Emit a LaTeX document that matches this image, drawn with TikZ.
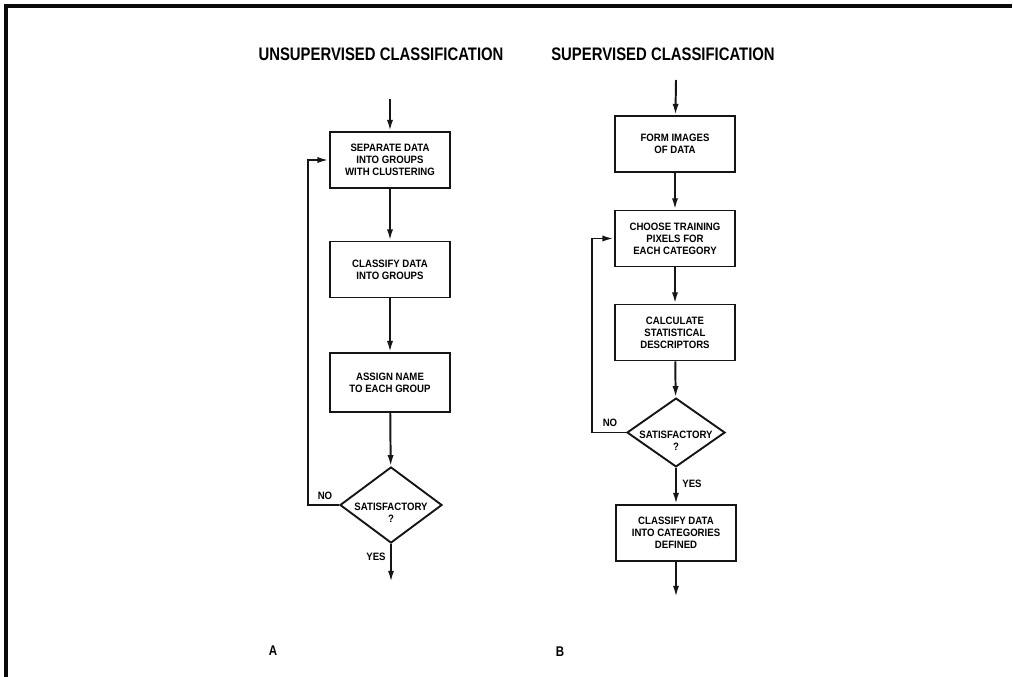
\documentclass[tikz,border=0pt]{standalone}
\usepackage{fontspec}
\usetikzlibrary{shapes.geometric,arrows.meta}
\setmainfont{Liberation Sans}
\newfontfamily\headfont{Liberation Sans}[FakeStretch=0.82]
\newfontfamily\boxfont{Liberation Sans}[FakeStretch=0.9]
\definecolor{inkBlack}{HTML}{151515}
\definecolor{frameGray}{HTML}{0A0A0A}

\begin{document}
\begin{tikzpicture}[x=0.025cm,y=-0.025cm,
  procbox/.style={draw=inkBlack,line width=1.35pt,minimum width=3.02cm,minimum height=1.4cm,
    inner sep=1pt,align=center,font=\boxfont\fontsize{7.6}{8.6}\selectfont\bfseries},
  decide/.style={draw=inkBlack,diamond,line width=1.35pt,inner xsep=-22pt,inner ysep=-8pt,
    align=center,font=\boxfont\fontsize{7.6}{8.6}\selectfont\bfseries},
  flowarrow/.style={draw=inkBlack,line width=1.4pt,-{Latex[length=8pt,width=4.4pt]}},
  flowtitle/.style={font=\headfont\fontsize{12.9}{14}\selectfont\bfseries},
  flowtag/.style={font=\boxfont\fontsize{7.6}{8}\selectfont\bfseries},
  partname/.style={font=\headfont\fontsize{10}{12}\selectfont\bfseries}]
\useasboundingbox (0,0) rectangle (1013,677);
\draw[frameGray,line width=2.8pt] (6,677) -- (6,6) -- (1012,6);

\node[flowtitle] (utitle) at (381,54) {UNSUPERVISED CLASSIFICATION};
\node[flowtitle] (stitle) at (663,54) {SUPERVISED CLASSIFICATION};

\coordinate (uin) at (390,99);
\node[procbox] (usep) at (390,160) {SEPARATE DATA\\INTO GROUPS\\WITH CLUSTERING};
\node[procbox] (ucls) at (390,269.5) {CLASSIFY DATA\\INTO GROUPS};
\node[procbox,minimum height=1.47cm] (uasg) at (390,382.5) {ASSIGN NAME\\TO EACH GROUP};
\node[decide,minimum width=2.55cm,minimum height=1.9cm] (usat) at (391,505) {\rule{0pt}{8pt}\\SATISFACTORY\\?};
\coordinate (uout) at (391,582);
\coordinate (uback) at (308,505);
\draw[flowarrow] (uin) -- (usep);
\draw[flowarrow] (usep) -- (ucls);
\draw[flowarrow] (ucls) -- (uasg);
\draw[flowarrow] (uasg) -- (usat);
\draw[flowarrow] (usat) -- (uout);
\draw[flowarrow] (usat.west) -- (uback) |- (usep.west);
\node[flowtag] (uno) at (325,496) {NO};
\node[flowtag] (uyes) at (376,557) {YES};
\node[partname] (parta) at (273,651) {A};

\coordinate (sin) at (676,80);
\node[procbox] (sform) at (675,144) {FORM IMAGES\\OF DATA};
\node[procbox] (schoose) at (675,238.5) {CHOOSE TRAINING\\PIXELS FOR\\EACH CATEGORY};
\node[procbox] (scalc) at (675,332.5) {CALCULATE\\STATISTICAL\\DESCRIPTORS};
\node[decide,minimum width=2.45cm,minimum height=1.72cm] (ssat) at (676,432.5) {\rule{0pt}{8pt}\\SATISFACTORY\\?};
\node[procbox] (sclass) at (676,533) {CLASSIFY DATA\\INTO CATEGORIES\\DEFINED};
\coordinate (sout) at (676,597);
\coordinate (sback) at (592,432.5);
\draw[flowarrow] (sin) -- (sform);
\draw[flowarrow] (sform) -- (schoose);
\draw[flowarrow] (schoose) -- (scalc);
\draw[flowarrow] (scalc) -- (ssat);
\draw[flowarrow] (ssat) -- (sclass);
\draw[flowarrow] (sclass) -- (sout);
\draw[flowarrow] (ssat.west) -- (sback) |- (schoose.west);
\node[flowtag] (sno) at (610,423) {NO};
\node[flowtag] (syes) at (692,484) {YES};
\node[partname] (partb) at (560,652) {B};
\end{tikzpicture}
\end{document}
